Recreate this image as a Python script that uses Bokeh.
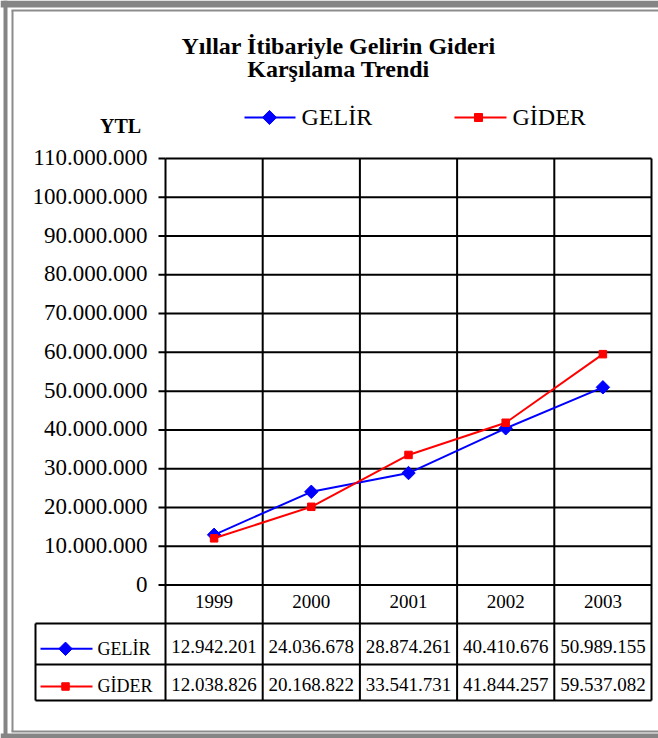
import numpy as np
from bokeh.plotting import figure
from bokeh.models import Range1d
from bokeh.core.properties import value
from bokeh.embed import file_html
from bokeh.resources import INLINE

# ---------------- data ----------------
years = ["1999", "2000", "2001", "2002", "2003"]
gelir = [12942201, 24036678, 28874261, 40410676, 50989155]
gider = [12038826, 20168822, 33541731, 41844257, 59537082]
series_names = ["GELİR", "GİDER"]
series_colors = ["#0000FF", "#FF0000"]
y_ticks = [0, 10000000, 20000000, 30000000, 40000000, 50000000,
           60000000, 70000000, 80000000, 90000000, 100000000, 110000000]
title_lines = ["Yıllar İtibariyle Gelirin Gideri", "Karşılama Trendi"]
unit_label = "YTL"


def fmt(v):
    return f"{v:,}".replace(",", ".")


y_tick_labels = [fmt(t) for t in y_ticks]

# ---------------- layout (figure pixels) ----------------
W, H = 658, 738
PL, PR = 165, 651        # plot area left / right
PT, PB = 158, 584.5      # plot area top (max) / zero line
TL = 35                  # table left edge
ROW1, ROW2, ROW3 = 623, 664, 700   # table horizontal lines
YMAX = y_ticks[-1]
ncat = len(years)
xpp = ncat / (PR - PL)
ypp = YMAX / (PB - PT)

FONT = value("Liberation Serif")

p = figure(width=W, height=H,
           x_range=Range1d(-0.5 - PL * xpp, ncat - 0.5 + (W - PR) * xpp),
           y_range=Range1d(-(H - PB) * ypp, YMAX + PT * ypp),
           output_backend="svg", toolbar_location=None, min_border=0,
           x_axis_location=None, y_axis_location=None,
           outline_line_color=None, background_fill_color="white",
           border_fill_color="white")
p.grid.visible = False
p.extra_x_ranges = {"px": Range1d(0, W)}
p.extra_y_ranges = {"px": Range1d(H, 0)}

# ---------------- outer frame ----------------
band = "#858585"
p.segment(x0=[0, 5, 0], y0=[3.5, 0, 735.5], x1=[W, 5, W], y1=[3.5, 738, 735.5],
          line_color=band, line_width=[7, 4, 5], x_range_name="px", y_range_name="px")
p.segment(x0=[11, 12, 11], y0=[10, 10, 731], x1=[W, 12, W], y1=[10, 731, 731],
          line_color="#8c8c8c", line_width=2, x_range_name="px", y_range_name="px")

# ---------------- grid / plot area ----------------
xs_ticks = [-0.5] * len(y_ticks)
xe_ticks = [ncat - 0.5] * len(y_ticks)
p.segment(x0=xs_ticks, y0=y_ticks, x1=xe_ticks, y1=y_ticks,
          line_color="black", line_width=2)
# tick marks
p.segment(x0=[PL - 7] * len(y_ticks), y0=y_ticks, x1=[PL] * len(y_ticks), y1=y_ticks,
          line_color="black", line_width=2, x_range_name="px")
# tick labels
p.text(x=[PL - 18] * len(y_ticks), y=y_ticks, text=y_tick_labels,
       x_range_name="px", text_align="right", text_baseline="alphabetic",
       y_offset=-1, text_font=FONT, text_font_size="23px", text_color="black")

# vertical dividers (plot + table)
bounds = [i - 0.5 for i in range(ncat + 1)]
p.segment(x0=bounds, y0=[PT] * len(bounds), x1=bounds, y1=[ROW3] * len(bounds),
          line_color="black", line_width=2, y_range_name="px")

# table horizontal lines + left border
p.segment(x0=[TL, TL, TL, TL], y0=[ROW1, ROW2, ROW3, ROW1],
          x1=[PR, PR, PR, TL], y1=[ROW1, ROW2, ROW3, ROW3],
          line_color="black", line_width=2, x_range_name="px", y_range_name="px")

# ---------------- series ----------------
cats = list(range(ncat))
p.line(cats, gelir, line_color=series_colors[0], line_width=2)
p.scatter(cats, gelir, marker="square", angle=np.pi / 4, size=9.5,
          fill_color=series_colors[0], line_color=series_colors[0])
p.line(cats, gider, line_color=series_colors[1], line_width=2)
p.scatter(cats, gider, marker="square", size=7.5,
          fill_color=series_colors[1], line_color=series_colors[1])

# ---------------- table texts ----------------
p.text(x=cats, y=[601] * ncat, text=years, y_range_name="px",
       text_align="center", text_baseline="alphabetic",
       text_font=FONT, text_font_size="19px", text_color="black")
p.text(x=cats, y=[646.3] * ncat, text=[fmt(v) for v in gelir], y_range_name="px",
       text_align="center", text_baseline="alphabetic",
       text_font=FONT, text_font_size="19px", text_color="black")
p.text(x=cats, y=[684] * ncat, text=[fmt(v) for v in gider], y_range_name="px",
       text_align="center", text_baseline="alphabetic",
       text_font=FONT, text_font_size="19px", text_color="black")

# table legend keys
p.segment(x0=[40, 40], y0=[648.3, 686], x1=[92, 92], y1=[648.3, 686],
          line_color=series_colors, line_width=2, x_range_name="px", y_range_name="px")
p.scatter(x=[65], y=[648.3], marker="square", angle=np.pi / 4, size=9.5,
          fill_color=series_colors[0], line_color=series_colors[0],
          x_range_name="px", y_range_name="px")
p.scatter(x=[65], y=[686], marker="square", size=7.5,
          fill_color=series_colors[1], line_color=series_colors[1],
          x_range_name="px", y_range_name="px")
p.text(x=[97, 97], y=[648.3, 685.5], text=series_names, x_range_name="px", y_range_name="px",
       text_align="left", text_baseline="alphabetic",
       text_font=FONT, text_font_size="18px", text_color="black")

# ---------------- top legend ----------------
p.segment(x0=[244, 454], y0=[117, 117], x1=[295, 506], y1=[117, 117],
          line_color=series_colors, line_width=2, x_range_name="px", y_range_name="px")
p.scatter(x=[269], y=[117], marker="square", angle=np.pi / 4, size=10,
          fill_color=series_colors[0], line_color=series_colors[0],
          x_range_name="px", y_range_name="px")
p.scatter(x=[478], y=[117], marker="square", size=8,
          fill_color=series_colors[1], line_color=series_colors[1],
          x_range_name="px", y_range_name="px")
p.text(x=[301, 512], y=[116.5, 116.5], text=series_names, x_range_name="px", y_range_name="px",
       text_align="left", text_baseline="alphabetic",
       text_font=FONT, text_font_size="24px", text_color="black")

# ---------------- titles ----------------
p.text(x=[338, 338], y=[45.5, 68], text=title_lines, x_range_name="px", y_range_name="px",
       text_align="center", text_baseline="alphabetic",
       text_font=FONT, text_font_style="bold", text_font_size="24px", text_color="black")
p.text(x=[120], y=[125.5], text=[unit_label], x_range_name="px", y_range_name="px",
       text_align="center", text_baseline="alphabetic",
       text_font=FONT, text_font_style="bold", text_font_size="20px", text_color="black")

open("out.html", "w").write(file_html(p, INLINE))
